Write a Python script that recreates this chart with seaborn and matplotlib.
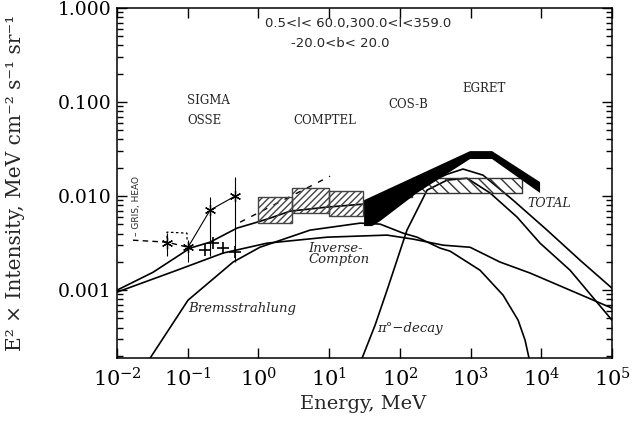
import numpy as np
import pandas as pd
import matplotlib
matplotlib.use("Agg")
import matplotlib.pyplot as plt
import seaborn as sns
from matplotlib.patches import Rectangle
from matplotlib.ticker import LogLocator, NullLocator, FuncFormatter, LogFormatterMathtext

# ---- model curves (energy MeV, E^2 x intensity) ----
total_e = [0.01, 0.0323, 0.108, 0.207, 0.498, 0.955, 1.46, 2.8, 9.33, 30.2, 72.6, 139, 267, 466, 783, 1503, 3990, 12080, 35400, 1e5]
total_i = [0.00100, 0.00155, 0.00280, 0.00324, 0.00457, 0.00528, 0.00583, 0.00692, 0.00764, 0.00822, 0.00929, 0.0110, 0.0141, 0.0171, 0.0194, 0.0167, 0.00906, 0.00435, 0.00208, 0.00105]

ic_e = [0.01, 0.0293, 0.0706, 0.316, 1.32, 9.33, 65.9, 154, 408, 984, 2612, 6950, 25530, 1e5]
ic_i = [0.000953, 0.00128, 0.00163, 0.00248, 0.00316, 0.00366, 0.00385, 0.00349, 0.00301, 0.00286, 0.00199, 0.00152, 0.00100, 0.000644]

brems_e = [0.0293, 0.101, 0.438, 1.05, 5.37, 27.4, 52.5, 111, 175, 371, 513, 1361, 2884, 4700, 5900, 6714]
brems_i = [0.000189, 0.000783, 0.00199, 0.00286, 0.00435, 0.00516, 0.00504, 0.00404, 0.00366, 0.00280, 0.0026, 0.00163, 0.000885, 0.00048, 0.000294, 0.000189]

pion_e = [29.2, 44.6, 65.9, 126, 243, 466, 891, 1888, 4550, 9616, 25530, 1e5]
pion_i = [0.000189, 0.000424, 0.00100, 0.00435, 0.0116, 0.0148, 0.0155, 0.0108, 0.00598, 0.00316, 0.00163, 0.00048]

# ---- data ----
gris_e = [0.0168, 0.0509, 0.101]
gris_i = [0.0034, 0.00324, 0.00286]
gris_box_e = [0.0509, 0.0509, 0.0977, 0.0977]
gris_box_i = [0.00316, 0.00414, 0.00404, 0.00332]

sigma_e = [0.0509, 0.101, 0.207, 0.467]
sigma_i = [0.00316, 0.00286, 0.0071, 0.0100]
sigma_lo = [0.0023, 0.00199, 0.0023, 0.00199]
sigma_hi = [0.00404, 0.0034, 0.00975, 0.0159]

osse_e = [0.176, 0.228, 0.316, 0.467]
osse_i = [0.00267, 0.00316, 0.0028, 0.00254]

comptel_line_e = [0.55, 10.3]
comptel_line_i = [0.00528, 0.0163]
comptel_lo = [1.0, 3.0, 10.0]
comptel_hi = [3.0, 10.0, 30.0]
comptel_min = [0.0052, 0.0066, 0.0061]
comptel_max = [0.0098, 0.0122, 0.0113]

cosb_lo = [68, 150]
cosb_hi = [150, 5300]
cosb_min = [0.0098, 0.0108]
cosb_max = [0.0119, 0.0155]

# EGRET band outline (upper edge, then lower edge back)
egret_e = [31.2, 984, 2014, 9616, 9616, 2014, 984, 175, 52.5, 40.5, 31.2]
egret_i = [0.00906, 0.0301, 0.0301, 0.0141, 0.0108, 0.0248, 0.0248, 0.0108, 0.00542, 0.0048, 0.0048]

y_ticks = [0.001, 0.01, 0.1, 1.0]

sns.set_theme(style="ticks")
plt.rcParams["font.family"] = ["DejaVu Serif"]
plt.rcParams["mathtext.fontset"] = "dejavusans"
plt.rcParams["mathtext.default"] = "it"
plt.rcParams["hatch.linewidth"] = 1.0

fig = plt.figure(figsize=(6.44, 4.21), dpi=100)
ax = fig.add_axes([0.1817, 0.1496, 0.7686, 0.8314])
ax.set_xscale("log")
ax.set_yscale("log")

# model curves
for xe, yi in [(total_e, total_i), (ic_e, ic_i), (brems_e, brems_i), (pion_e, pion_i)]:
    sns.lineplot(x=xe, y=yi, ax=ax, color="black", lw=1.2, sort=False, estimator=None)

# COMPTEL boxes
for lo, hi, a, b in zip(comptel_lo, comptel_hi, comptel_min, comptel_max):
    ax.add_patch(Rectangle((lo, a), hi - lo, b - a, fill=False, hatch="/////",
                           edgecolor="#444444", lw=1.0, zorder=3))
# COS-B / EGRET boxes
for lo, hi, a, b in zip(cosb_lo, cosb_hi, cosb_min, cosb_max):
    ax.add_patch(Rectangle((lo, a), hi - lo, b - a, fill=False, hatch="\\\\\\",
                           edgecolor="#333333", lw=1.0, zorder=3))

ax.fill(egret_e, egret_i, color="black", zorder=5, lw=0)

# low energy data
ax.plot(gris_e, gris_i, color="black", ls=(0, (4, 3)), lw=1.0)
ax.plot(gris_box_e, gris_box_i, color="black", ls=(0, (2, 2)), lw=0.9)
ax.plot(comptel_line_e, comptel_line_i, color="black", ls=(0, (4, 5)), lw=1.0)
ax.plot(sigma_e[1:], sigma_i[1:], color="black", lw=0.8)
yerr = [np.array(sigma_i) - np.array(sigma_lo), np.array(sigma_hi) - np.array(sigma_i)]
ax.errorbar(sigma_e, sigma_i, yerr=yerr, fmt="none", ecolor="black", elinewidth=0.8)
ax.plot(sigma_e, sigma_i, ls="none", marker=(6, 2, 0), ms=8, mec="black", mew=0.9)
ax.plot(osse_e, osse_i, ls="none", marker="+", ms=8, mec="black", mew=1.2)

ax.set_xlim(0.01, 1e5)
ax.set_ylim(1.9e-4, 1.0)

ax.xaxis.set_major_locator(LogLocator(base=10, numticks=10))
ax.xaxis.set_minor_locator(NullLocator())
ax.xaxis.set_major_formatter(LogFormatterMathtext())
ax.set_yticks(y_ticks)
ax.yaxis.set_minor_locator(LogLocator(base=10, subs=np.arange(2, 10), numticks=12))
ax.yaxis.set_major_formatter(FuncFormatter(lambda v, _: f"{v:.3f}"))
ax.tick_params(which="both", direction="in", top=True, right=True, colors="black", width=1.0)
ax.tick_params(which="major", length=7)
ax.tick_params(which="minor", length=4)
ax.tick_params(axis="y", labelsize=13.5, pad=4)
ax.tick_params(axis="x", labelsize=15, pad=7)
for s in ax.spines.values():
    s.set_color("black")
    s.set_linewidth(1.1)

ax.set_ylabel("E² × Intensity, MeV cm⁻² s⁻¹ sr⁻¹", fontsize=14.5)
ax.yaxis.set_label_coords(-0.186, 0.5)
ax.set_xlabel("Energy, MeV", fontsize=14)
ax.xaxis.set_label_coords(0.497, -0.105)

# annotations
ax.text(25.7, 0.69, "0.5<l< 60.0,300.0<l<359.0", family="DejaVu Sans", fontsize=9.5, ha="center", va="center")
ax.text(14.3, 0.424, "-20.0<b< 20.0", family="DejaVu Sans", fontsize=9.5, ha="center", va="center")
ax.text(0.098, 0.105, "SIGMA", fontsize=8.5, ha="left", va="center")
ax.text(0.098, 0.0644, "OSSE", fontsize=8.5, ha="left", va="center")
ax.text(3.08, 0.0644, "COMPTEL", fontsize=8.5, ha="left", va="center")
ax.text(68, 0.0952, "COS-B", fontsize=8.5, ha="left", va="center")
ax.text(759, 0.141, "EGRET", fontsize=8.5, ha="left", va="center")
ax.text(6300, 0.00843, "TOTAL", fontsize=9, style="italic", ha="left", va="center")
ax.text(5.03, 0.0028, "Inverse-", fontsize=9.5, style="italic", ha="left", va="center")
ax.text(5.03, 0.00211, "Compton", fontsize=9.5, style="italic", ha="left", va="center")
ax.text(0.101, 0.000644, "Bremsstrahlung", fontsize=9.5, style="italic", ha="left", va="center")
ax.text(47.6, 0.000394, "π°−decay", fontsize=9.5, style="italic", ha="left", va="center")
ax.text(0.0186, 0.00783, "– GRIS, HEAO", family="DejaVu Sans", fontsize=6.5, rotation=90, ha="center", va="center")

fig.savefig("out.png", dpi=100, facecolor="white")
